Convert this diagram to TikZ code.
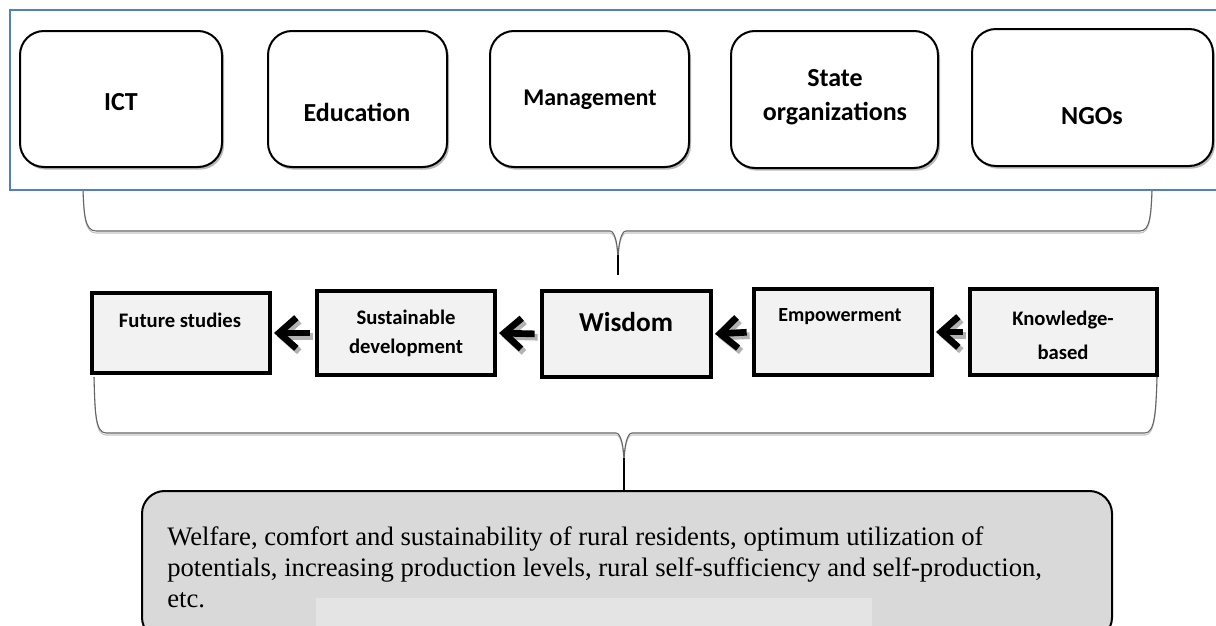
\documentclass[tikz,border=0pt]{standalone}
\usepackage{fontspec}
\setmainfont{Liberation Serif}
\newfontfamily\carl{Carlito}
\usetikzlibrary{arrows.meta,fit,shadows}
\definecolor{frameblue}{RGB}{79,129,189}
\definecolor{midfill}{RGB}{242,242,242}
\definecolor{botfill}{RGB}{217,217,217}
\definecolor{botlight}{RGB}{228,228,228}
\definecolor{bracegray}{RGB}{100,100,100}
\definecolor{braceshade}{RGB}{195,195,195}
\begin{document}
\begin{tikzpicture}[x=0.75pt,y=-0.75pt,
  topbox/.style={draw=black, line width=1.5pt, rounded corners=18pt, fill=white, inner sep=0pt,
    drop shadow={shadow xshift=1.5pt, shadow yshift=-2pt, fill=gray!55, opacity=1}},
  midbox/.style={draw=black, line width=3pt, fill=midfill, inner sep=0pt},
  botbox/.style={draw=black, line width=1.5pt, rounded corners=17pt, fill=botfill, inner sep=0pt},
  toptext/.style={font=\carl\bfseries\fontsize{19.5}{25}\selectfont, align=center, inner sep=0pt},
  midtext/.style={font=\carl\bfseries\fontsize{15.5}{22}\selectfont, align=center, inner sep=0pt},
  bottext/.style={font=\fontsize{20}{24}\selectfont, anchor=base west, inner sep=0pt},
  arr/.style={line width=5pt, -{Straight Barb[length=13pt,width=23pt]}},
  arrshade/.style={arr, draw=gray!60, transform canvas={xshift=2.2pt, yshift=-2.5pt}},
  braceline/.style={draw=bracegray, line width=0.8pt},
  braceshadow/.style={draw=braceshade, line width=0.8pt, yshift=-1.5pt}
]
\useasboundingbox (0,0) rectangle (1216,625);
\clip (0,0) rectangle (1216,625);

% blue frame
\draw[frameblue, line width=1.1pt] (1220,10) -- (10,10) -- (10,190) -- (1220,190);

% top boxes
\node[topbox, fit={(20,31) (222,167)}] (ict) {};
\node[topbox, fit={(268,31) (447,167)}] (edu) {};
\node[topbox, fit={(490,31) (689,167)}] (man) {};
\node[topbox, fit={(731,31) (938,168)}] (sta) {};
\node[topbox, fit={(972,29) (1213,166)}] (ngo) {};
\node[toptext] (ictt) at (121,102) {ICT};
\node[toptext] (edut) at (357,112) {Education};
\node[toptext, font=\carl\bfseries\fontsize{18}{25}\selectfont] (mant) at (590,100) {Management};
\node[toptext, font=\carl\bfseries\fontsize{19.5}{25.5}\selectfont] (stat) at (835,97) {State\\organizations};
\node[toptext] (ngot) at (1092,116) {NGOs};

% top brace
\coordinate (tb1) at (83,190);
\coordinate (tb2) at (1152,190);
\coordinate (tbc) at (618,275);
\foreach \sty in {braceshadow,braceline}{
  \draw[\sty] (tb1) .. controls (84,215) and (85,231) .. (96,231) -- (610,231)
     .. controls (615,231) and (618,245) .. (618,262)
     .. controls (618,245) and (621,231) .. (626,231) -- (1140,231)
     .. controls (1150,231) and (1151,215) .. (tb2);
}
\draw[braceline, draw=black] (618,255) -- (tbc);

% middle boxes
\node[midbox, fit={(92,293) (270,373)}] (fut) {};
\node[midbox, fit={(317,291) (495,375)}] (sus) {};
\node[midbox, fit={(542,291) (711,377)}] (wis) {};
\node[midbox, fit={(754,289) (932,375)}] (emp) {};
\node[midbox, fit={(970,289) (1157,375)}] (kb) {};
\node[midtext] (futt) at (180,320) {Future studies};
\node[midtext, font=\carl\bfseries\fontsize{15.5}{21.75}\selectfont] (sust) at (406,333) {Sustainable\\development};
\node[midtext, font=\carl\bfseries\fontsize{20.5}{25}\selectfont] (wist) at (626,322) {Wisdom};
\node[midtext, font=\carl\bfseries\fontsize{15}{22}\selectfont] (empt) at (840,317) {Empowerment};
\node[midtext, font=\carl\bfseries\fontsize{15.5}{25.5}\selectfont] (kbt) at (1063,335) {Knowledge-\\based};

% arrows (shadow then arrow)
\foreach \a/\b in {sus/fut, wis/sus, emp/wis, kb/emp}{
  \draw[arrshade, shorten <=4pt, shorten >=1.5pt] (\a.west) -- (\b.east);
  \draw[arr, shorten <=4pt, shorten >=1.5pt] (\a.west) -- (\b.east);
}

% lower brace
\coordinate (lb1) at (94,377);
\coordinate (lb2) at (1157,377);
\coordinate (lbc) at (624,491);
\foreach \sty in {braceshadow,braceline}{
  \draw[\sty] (lb1) .. controls (95,410) and (95,433) .. (106,433) -- (616,433)
     .. controls (621,433) and (624,447) .. (624,464)
     .. controls (624,447) and (627,433) .. (632,433) -- (1145,433)
     .. controls (1155,433) and (1156,410) .. (lb2);
}
\draw[braceline, draw=black] (624,458) -- (lbc);

% bottom box
\node[botbox, fit={(142,491) (1112,640)}] (bot) {};
\fill[botlight] (316,598) rectangle (872,640);
\node[bottext] (l1) at (167,545) {Welfare, comfort and sustainability of rural residents, optimum utilization of};
\node[bottext] (l2) at (167,576) {potentials, increasing production levels, rural self-sufficiency and self-production,};
\node[bottext] (l3) at (167,607) {etc.};
\end{tikzpicture}
\end{document}
